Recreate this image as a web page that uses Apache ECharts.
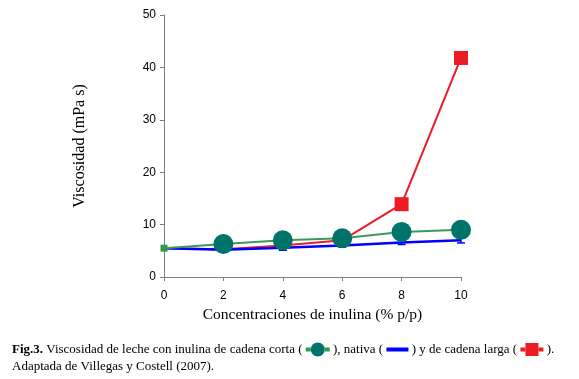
<!DOCTYPE html>
<html><head><meta charset="utf-8">
<script src="https://cdn.jsdelivr.net/npm/echarts@6/dist/echarts.min.js"></script>
<style>html,body{margin:0;padding:0;background:#fff}#c{width:579px;height:379px}</style>
</head><body><div id="c"></div>
<script>
var xCats = [0, 2, 4, 6, 8, 10];
var corta = [5.5, 6.3, 7.0, 7.4, 8.6, 9.0];
var nativa = [5.5, 5.2, 5.6, 6.0, 6.6, 7.0];
var nativaErr = [0.2, 0.4, 0.5, 0.3, 0.4, 0.5];
var larga = [5.5, 5.3, 6.0, 7.0, 13.9, 41.8];
var yTicks = [0, 10, 20, 30, 40, 50];

var chart = echarts.init(document.getElementById('c'));
function pts(arr){ return xCats.map(function(x,i){ return [x, arr[i]]; }); }
var errData = xCats.map(function(x,i){ return [x, nativa[i]-nativaErr[i], nativa[i]+nativaErr[i]]; });

chart.setOption({
  animation: false,
  grid: {left: 164, right: 118, top: 15, bottom: 102},
  xAxis: {
    type: 'value', min: 0, max: 10, interval: 2,
    axisLine: {lineStyle: {color: '#7f7f7f'}},
    axisTick: {length: 4, lineStyle: {color: '#7f7f7f'}},
    axisLabel: {color: '#000', fontFamily: 'Liberation Sans', fontSize: 12, margin: 13},
    splitLine: {show: false},
    name: 'Concentraciones de inulina (% p/p)', nameLocation: 'middle', nameGap: 29,
    nameTextStyle: {color: '#000', fontFamily: 'Liberation Serif', fontSize: 15.5}
  },
  yAxis: {
    type: 'value', min: 0, max: 50, interval: 10,
    axisLine: {show: true, lineStyle: {color: '#7f7f7f'}},
    axisTick: {show: true, length: 4, lineStyle: {color: '#7f7f7f'}},
    axisLabel: {color: '#000', fontFamily: 'Liberation Sans', fontSize: 12, margin: 8,
      formatter: function(v){ return yTicks.indexOf(v) >= 0 ? String(v) : ''; }},
    splitLine: {show: false},
    name: 'Viscosidad (mPa s)', nameLocation: 'middle', nameGap: 76,
    nameTextStyle: {color: '#000', fontFamily: 'Liberation Serif', fontSize: 16}
  },
  series: [
    {
      type: 'line', data: pts(larga).map(function(p,i){
        return i < 4 ? {value: p, symbol: 'none'} : {value: p};
      }),
      symbol: 'rect', symbolSize: 14, showAllSymbol: true,
      lineStyle: {color: '#ec1c24', width: 2},
      itemStyle: {color: '#ec1c24'}, z: 2
    },
    {
      type: 'line', data: pts(nativa), symbol: 'none',
      lineStyle: {color: '#0000ff', width: 2.5}, z: 3
    },
    {
      type: 'custom', z: 4,
      renderItem: function(params, api){
        var x = api.coord([api.value(0), api.value(1)])[0];
        var lo = api.coord([api.value(0), api.value(1)])[1];
        var hi = api.coord([api.value(0), api.value(2)])[1];
        var st = {stroke: '#0000ff', lineWidth: 1.5};
        return {type: 'group', children: [
          {type: 'line', shape: {x1: x, y1: lo, x2: x, y2: hi}, style: st},
          {type: 'line', shape: {x1: x-4, y1: lo, x2: x+4, y2: lo}, style: st},
          {type: 'line', shape: {x1: x-4, y1: hi, x2: x+4, y2: hi}, style: st}
        ]};
      },
      data: errData.slice(1)
    },
    {
      type: 'line', data: pts(corta).map(function(p,i){
        return i === 0 ? {value: p, symbol: 'rect', symbolSize: 7, itemStyle: {color: '#2e9a4a'}} : {value: p};
      }),
      symbol: 'circle', symbolSize: 20,
      lineStyle: {color: '#3a9a5c', width: 2},
      itemStyle: {color: '#00736b'}, z: 5
    }
  ],
  graphic: [
    {
      type: 'text', left: 12, top: 341,
      style: {
        text: '{b|Fig.3.} Viscosidad de leche con inulina de cadena corta ( {gl|}{g|}{gl|} ), nativa ( {bl|} ) y de cadena larga ( {rl|}{r|}{rl|} ).\nAdaptada de Villegas y Costell (2007).',
        fontFamily: 'Liberation Serif', fontSize: 13, fill: '#000', lineHeight: 17,
        rich: {
          b: {fontWeight: 'bold', fontFamily: 'Liberation Serif', fontSize: 13},
          gl: {width: 5, height: 4, backgroundColor: '#2e9a4a'},
          g: {width: 14, height: 14, backgroundColor: '#00736b', borderRadius: 7},
          bl: {width: 22, height: 4, backgroundColor: '#0000ff'},
          rl: {width: 5, height: 4, backgroundColor: '#ec1c24'},
          r: {width: 13, height: 13, backgroundColor: '#ec1c24'}
        }
      }
    }
  ]
});
</script></body></html>
